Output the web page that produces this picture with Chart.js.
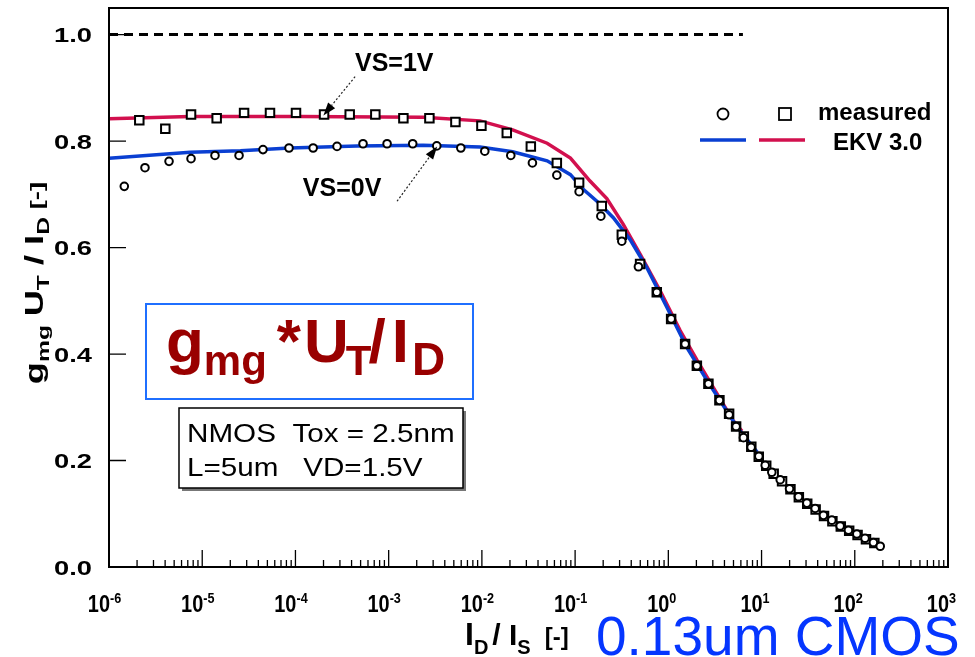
<!DOCTYPE html>
<html>
<head>
<meta charset="utf-8">
<script src="https://cdn.jsdelivr.net/npm/chart.js@4.4.0/dist/chart.umd.min.js"></script>
<style>
  html, body { margin: 0; padding: 0; background: #fff; }
  #wrap { width: 975px; height: 657px; }
</style>
</head>
<body>
<div id="wrap"><canvas id="gmChart" width="975" height="657"></canvas></div>
<script>
// measured points (x given as log10(ID/IS))
const circLogX = [-5.836, -5.614, -5.356, -5.12, -4.863, -4.605, -4.348, -4.069, -3.81, -3.554,
  -3.275, -3.017, -2.742, -2.484, -2.226, -1.969, -1.69, -1.458, -1.196, -0.957,
  -0.724, -0.499, -0.321, -0.124, 0.03, 0.18, 0.306, 0.43, 0.548, 0.652,
  0.727, 0.806, 0.888, 0.971, 1.039, 1.11, 1.2, 1.3, 1.396, 1.486,
  1.575, 1.664, 1.754, 1.843, 1.932, 2.022, 2.11, 2.2, 2.273];
const circVals = [0.715, 0.75, 0.762, 0.767, 0.773, 0.773, 0.784, 0.787, 0.787, 0.79,
  0.795, 0.795, 0.795, 0.791, 0.787, 0.781, 0.773, 0.759, 0.736, 0.705,
  0.659, 0.612, 0.564, 0.516, 0.466, 0.419, 0.378, 0.344, 0.313, 0.286,
  0.264, 0.243, 0.225, 0.208, 0.191, 0.178, 0.164, 0.147, 0.132, 0.12,
  0.11, 0.097, 0.088, 0.077, 0.069, 0.062, 0.054, 0.046, 0.039];

const sqLogX = [-5.675, -5.396, -5.12, -4.845, -4.551, -4.273, -3.994, -3.693, -3.418, -3.143,
  -2.842, -2.563, -2.284, -2.005, -1.733, -1.475, -1.196, -0.957, -0.714, -0.499,
  -0.303, -0.124, 0.03, 0.18, 0.306, 0.43, 0.548, 0.652, 0.727, 0.81,
  0.89, 0.97, 1.05, 1.13, 1.22, 1.31, 1.4, 1.49, 1.58, 1.67,
  1.76, 1.85, 1.94, 2.03, 2.12, 2.21];
const sqVals = [0.839, 0.823, 0.85, 0.843, 0.853, 0.853, 0.853, 0.85, 0.85, 0.85,
  0.843, 0.843, 0.836, 0.829, 0.815, 0.79, 0.759, 0.722, 0.678, 0.624,
  0.569, 0.516, 0.466, 0.419, 0.378, 0.344, 0.313, 0.288, 0.264, 0.245,
  0.226, 0.207, 0.19, 0.175, 0.161, 0.146, 0.131, 0.119, 0.108, 0.096,
  0.086, 0.076, 0.068, 0.06, 0.052, 0.045];

// EKV 3.0 model curves
const ekv0LogX = [-6, -5.13, -4.59, -4.06, -3.34, -2.63, -2.02, -1.67, -1.3, -1.05,
  -0.91, -0.76, -0.59, -0.41, -0.23, -0.013, 0.2, 0.416, 0.738, 0.953];
const ekv0Vals = [0.768, 0.779, 0.782, 0.787, 0.791, 0.792, 0.789, 0.78, 0.763, 0.737,
  0.709, 0.686, 0.656, 0.615, 0.562, 0.487, 0.412, 0.35, 0.263, 0.216];
const ekv1LogX = [-6, -5.13, -3.95, -2.63, -2.02, -1.67, -1.3, -1.05, -0.84, -0.66,
  -0.485, -0.3, -0.088, 0.127, 0.309, 0.48, 0.695, 0.79];
const ekv1Vals = [0.842, 0.846, 0.846, 0.845, 0.838, 0.821, 0.796, 0.768, 0.725, 0.692,
  0.644, 0.587, 0.519, 0.444, 0.388, 0.338, 0.275, 0.255];

// ideal weak-inversion limit
const refLogX = [-6, 0.8];
const refVals = [1.0, 1.0];

const xTickExps = [-6, -5, -4, -3, -2, -1, 0, 1, 2, 3];
const yTicks = [0.0, 0.2, 0.4, 0.6, 0.8, 1.0];

const BLUE = '#0a3fd2';
const RED = '#d2104e';
const FONT = '"Liberation Sans", Arial, sans-serif';

function pts(lx, vals) {
  return lx.map((e, i) => ({ x: Math.pow(10, e), y: vals[i] }));
}

// text drawn with a horizontal stretch factor
function sText(ctx, t, x, y, font, sx, align) {
  ctx.save();
  ctx.font = font;
  const w = ctx.measureText(t).width * sx;
  const x0 = align === 'right' ? x - w : (align === 'center' ? x - w / 2 : x);
  ctx.translate(x0, y);
  ctx.scale(sx, 1);
  ctx.textAlign = 'left';
  ctx.fillText(t, 0, 0);
  ctx.restore();
  return w;
}

// runs of text with sub/superscripts
function drawRuns(ctx, x, y, parts) {
  let cx = x;
  parts.forEach(p => {
    ctx.font = p.f;
    ctx.fillText(p.t, cx, y + (p.dy || 0));
    cx += ctx.measureText(p.t).width + (p.gap || 0);
  });
  return cx - x;
}
function runsWidth(ctx, parts) {
  let w = 0;
  parts.forEach(p => { ctx.font = p.f; w += ctx.measureText(p.t).width + (p.gap || 0); });
  return w;
}

function arrow(ctx, x1, y1, x2, y2) {
  const ang = Math.atan2(y2 - y1, x2 - x1);
  const L = 13, W = 4.5;
  ctx.save();
  ctx.strokeStyle = '#222';
  ctx.lineWidth = 1.2;
  ctx.setLineDash([2, 2]);
  ctx.beginPath();
  ctx.moveTo(x1, y1);
  ctx.lineTo(x2 - L * Math.cos(ang), y2 - L * Math.sin(ang));
  ctx.stroke();
  ctx.setLineDash([]);
  ctx.fillStyle = '#000';
  ctx.beginPath();
  ctx.moveTo(x2, y2);
  ctx.lineTo(x2 - L * Math.cos(ang) + W * Math.sin(ang), y2 - L * Math.sin(ang) - W * Math.cos(ang));
  ctx.lineTo(x2 - L * Math.cos(ang) - W * Math.sin(ang), y2 - L * Math.sin(ang) + W * Math.cos(ang));
  ctx.closePath();
  ctx.fill();
  ctx.restore();
}

const decor = {
  id: 'decor',
  afterDraw(chart) {
    const ctx = chart.ctx;
    const a = chart.chartArea;
    const xs = chart.scales.x, ys = chart.scales.y;
    ctx.save();
    ctx.fillStyle = '#000';
    ctx.strokeStyle = '#000';
    ctx.textBaseline = 'alphabetic';

    // frame
    ctx.lineWidth = 2;
    ctx.strokeRect(a.left, a.top, a.right - a.left, a.bottom - a.top);

    // x ticks (inside), decades + minors
    ctx.lineWidth = 1.3;
    ctx.beginPath();
    xTickExps.forEach((e, i) => {
      const px = xs.getPixelForValue(Math.pow(10, e));
      ctx.moveTo(px, a.bottom); ctx.lineTo(px, a.bottom - 17);
      if (i < xTickExps.length - 1) {
        for (let k = 2; k <= 9; k++) {
          const mx = xs.getPixelForValue(k * Math.pow(10, e));
          ctx.moveTo(mx, a.bottom); ctx.lineTo(mx, a.bottom - 7);
        }
      }
    });
    yTicks.forEach(v => {
      const py = ys.getPixelForValue(v);
      ctx.moveTo(a.left, py); ctx.lineTo(a.left + 17, py);
    });
    ctx.stroke();

    // y tick labels
    yTicks.forEach(v => {
      const py = ys.getPixelForValue(v);
      sText(ctx, v.toFixed(1), 92, py + 7.5, 'bold 21px ' + FONT, 1.3, 'right');
    });

    // x tick labels 10^n
    xTickExps.forEach(e => {
      const px = xs.getPixelForValue(Math.pow(10, e));
      sText(ctx, '10', px + 1, 612, 'bold 24px ' + FONT, 0.83, 'right');
      sText(ctx, String(e), px + 1, 603, 'bold 14px ' + FONT, 0.9, 'left');
    });

    // y axis title (rotated, stretched)
    const yParts = [
      { t: 'g', f: 'bold 25px ' + FONT },
      { t: 'mg', f: 'bold 17px ' + FONT, dy: 6, gap: 6 },
      { t: 'U', f: 'bold 25px ' + FONT },
      { t: 'T', f: 'bold 17px ' + FONT, dy: 6 },
      { t: ' / I', f: 'bold 25px ' + FONT },
      { t: 'D', f: 'bold 17px ' + FONT, dy: 6 },
      { t: ' [-]', f: 'bold 19px ' + FONT }
    ];
    ctx.save();
    ctx.translate(43, 283);
    ctx.rotate(-Math.PI / 2);
    ctx.scale(1.45, 1);
    const yw = runsWidth(ctx, yParts);
    drawRuns(ctx, -yw / 2, 0, yParts);
    ctx.restore();

    // x axis title
    drawRuns(ctx, 465, 645, [
      { t: 'I', f: 'bold 32px ' + FONT },
      { t: 'D', f: 'bold 20px ' + FONT, dy: 9, gap: 4 },
      { t: '/ I', f: 'bold 30px ' + FONT },
      { t: 'S', f: 'bold 20px ' + FONT, dy: 9, gap: 14 },
      { t: '[-]', f: 'bold 24px ' + FONT }
    ]);
    ctx.fillStyle = '#0536ff';
    ctx.font = '55px ' + FONT;
    ctx.fillText('0.13um CMOS', 596, 655);
    ctx.fillStyle = '#000';

    // curve annotations
    ctx.font = 'bold 25px ' + FONT;
    ctx.textAlign = 'center';
    ctx.fillText('VS=1V', xs.getPixelForValue(Math.pow(10, -2.94)), ys.getPixelForValue(0.948) + 9);
    ctx.fillText('VS=0V', xs.getPixelForValue(Math.pow(10, -3.5)), ys.getPixelForValue(0.713) + 9);
    ctx.textAlign = 'left';
    arrow(ctx, xs.getPixelForValue(Math.pow(10, -3.36)), ys.getPixelForValue(0.921),
      xs.getPixelForValue(Math.pow(10, -3.70)), ys.getPixelForValue(0.848));
    arrow(ctx, xs.getPixelForValue(Math.pow(10, -2.91)), ys.getPixelForValue(0.687),
      xs.getPixelForValue(Math.pow(10, -2.48)), ys.getPixelForValue(0.79));

    // legend
    ctx.lineWidth = 1.8;
    ctx.fillStyle = '#fff';
    ctx.beginPath(); ctx.arc(723, 114, 5.5, 0, Math.PI * 2); ctx.fill(); ctx.stroke();
    ctx.fillRect(779, 108, 12, 12); ctx.strokeRect(779, 108, 12, 12);
    ctx.lineWidth = 3.5;
    ctx.strokeStyle = BLUE;
    ctx.beginPath(); ctx.moveTo(700, 140); ctx.lineTo(746, 140); ctx.stroke();
    ctx.strokeStyle = RED;
    ctx.beginPath(); ctx.moveTo(759, 140); ctx.lineTo(805, 140); ctx.stroke();
    ctx.fillStyle = '#000';
    ctx.font = 'bold 24px ' + FONT;
    ctx.fillText('measured', 818, 120);
    ctx.fillText('EKV 3.0', 833, 150);

    // title box
    ctx.fillStyle = '#fff';
    ctx.fillRect(146, 304, 327, 95);
    ctx.strokeStyle = '#1f6fff';
    ctx.lineWidth = 2;
    ctx.strokeRect(146, 304, 327, 95);
    ctx.fillStyle = '#990000';
    drawRuns(ctx, 166, 362, [
      { t: 'g', f: 'bold 62px ' + FONT },
      { t: 'mg', f: 'bold 42px ' + FONT, dy: 13, gap: 10 },
      { t: '*', f: 'bold 62px ' + FONT, gap: 3 },
      { t: 'U', f: 'bold 62px ' + FONT, gap: -3 },
      { t: 'T', f: 'bold 42px ' + FONT, dy: 13, gap: -3 },
      { t: '/', f: 'bold 62px ' + FONT, gap: 6 },
      { t: 'I', f: 'bold 62px ' + FONT, gap: 3 },
      { t: 'D', f: 'bold 46px ' + FONT, dy: 13 }
    ]);

    // device box with shadow
    ctx.fillStyle = '#777';
    ctx.fillRect(182, 411, 284, 80);
    ctx.fillStyle = '#fff';
    ctx.fillRect(179, 408, 284, 80);
    ctx.strokeStyle = '#000';
    ctx.lineWidth = 1.5;
    ctx.strokeRect(179, 408, 284, 80);
    ctx.fillStyle = '#000';
    sText(ctx, 'NMOS  Tox = 2.5nm', 187, 442, '26px ' + FONT, 1.14, 'left');
    sText(ctx, 'L=5um   VD=1.5V', 187, 476, '26px ' + FONT, 1.14, 'left');

    ctx.restore();
  }
};

new Chart(document.getElementById('gmChart'), {
  type: 'scatter',
  data: {
    datasets: [
      { label: 'measured VS=0V', data: pts(circLogX, circVals), pointStyle: 'circle', pointRadius: 3.8,
        borderColor: '#000', backgroundColor: '#fff', borderWidth: 2, showLine: false },
      { label: 'measured VS=1V', data: pts(sqLogX, sqVals), pointStyle: 'rect', pointRadius: 6,
        borderColor: '#000', backgroundColor: '#fff', borderWidth: 2, showLine: false },
      { label: 'EKV 3.0 VS=0V', data: pts(ekv0LogX, ekv0Vals), showLine: true, pointRadius: 0,
        borderColor: BLUE, borderWidth: 3.5 },
      { label: 'EKV 3.0 VS=1V', data: pts(ekv1LogX, ekv1Vals), showLine: true, pointRadius: 0,
        borderColor: RED, borderWidth: 3.5 },
      { label: 'limit', data: pts(refLogX, refVals), showLine: true, pointRadius: 0,
        borderColor: '#000', borderWidth: 3, borderDash: [9, 6] }
    ]
  },
  options: {
    responsive: false,
    animation: false,
    devicePixelRatio: 1,
    layout: { padding: { left: 109, right: 27, top: 7, bottom: 90 } },
    plugins: { legend: { display: false }, tooltip: { enabled: false } },
    scales: {
      x: { type: 'logarithmic', min: 1e-6, max: 1e3, display: false },
      y: { type: 'linear', min: 0, max: 1.05, display: false }
    }
  },
  plugins: [decor]
});
</script>
</body>
</html>
